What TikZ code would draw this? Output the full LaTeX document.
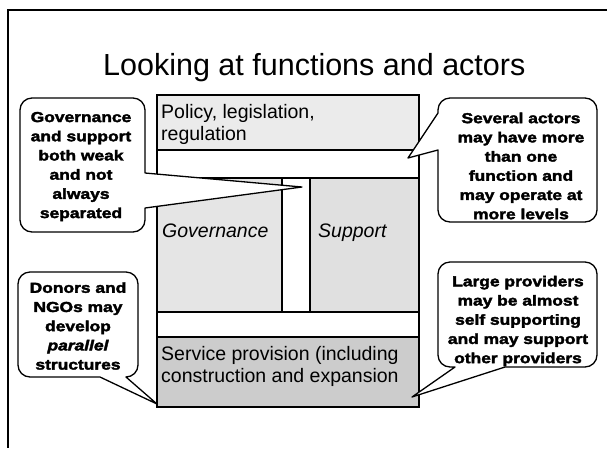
\documentclass[tikz,border=0pt]{standalone}
\usepackage{fontspec}
\setmainfont{Liberation Sans}
\newfontfamily\cfont[FakeStretch=1.2,FakeBold=2.5]{Liberation Sans Bold}
\newfontfamily\cifont[FakeStretch=1.2,FakeBold=2.5]{Liberation Sans Bold Italic}
\begin{document}
\begin{tikzpicture}[x=1pt,y=1pt,
  region/.style={draw=black,line width=1.3pt,anchor=north west,inner sep=0pt,outer sep=0pt},
  boxtext/.style={font=\fontsize{19.5}{22}\selectfont,align=left,inner sep=0pt,anchor=north west},
  labeltext/.style={font=\itshape\fontsize{19.5}{22}\selectfont,inner sep=0pt,anchor=base west},
  calloutshape/.style={draw=black,fill=white,line width=1.3pt,line join=round},
  callouttext/.style={font=\cfont\fontsize{14.5}{19.2}\selectfont,align=center,inner sep=0pt}]
\useasboundingbox (0,0) rectangle (607,-448);
% outer frame
\draw[line width=1.8pt] (607,-10) -- (8,-10) -- (8,-448);
% title
\node[font=\fontsize{30.5}{36}\selectfont,inner sep=0pt,anchor=base west] (title) at (103,-75) {Looking at functions and actors};
% main block
\node[region,fill=gray!16,minimum width=262,minimum height=55] (policy) at (157,-95) {};
\node[region,fill=white,minimum width=262,minimum height=28] (band1) at (157,-150) {};
\node[region,fill=gray!20,minimum width=125,minimum height=134] (gov) at (157,-178) {};
\node[region,fill=white,minimum width=28,minimum height=134] (gap) at (282,-178) {};
\node[region,fill=gray!24,minimum width=109,minimum height=134] (sup) at (310,-178) {};
\node[region,fill=white,minimum width=262,minimum height=25] (band2) at (157,-312) {};
\node[region,fill=gray!40,minimum width=262,minimum height=70] (serv) at (157,-337) {};
% callouts
\draw[calloutshape] (32,-98) -- (133,-98) arc[start angle=90,end angle=0,radius=12]
  -- (145,-173) -- (302,-187) -- (145,-208) -- (145,-220) arc[start angle=0,end angle=-90,radius=12]
  -- (32,-232) arc[start angle=-90,end angle=-180,radius=12]
  -- (20,-110) arc[start angle=180,end angle=90,radius=12] -- cycle;
\draw[calloutshape] (450,-98) -- (585,-98) arc[start angle=90,end angle=0,radius=12]
  -- (597,-210) arc[start angle=0,end angle=-90,radius=12]
  -- (450,-222) arc[start angle=-90,end angle=-180,radius=12]
  -- (438,-150) -- (408,-158) -- (438,-113) -- (438,-110) arc[start angle=180,end angle=90,radius=12] -- cycle;
\draw[calloutshape] (30,-272) -- (126,-272) arc[start angle=90,end angle=0,radius=12]
  -- (138,-365) arc[start angle=0,end angle=-90,radius=12]
  -- (157,-404) -- (100,-377) -- (30,-377) arc[start angle=-90,end angle=-180,radius=12]
  -- (18,-284) arc[start angle=180,end angle=90,radius=12] -- cycle;
\draw[calloutshape] (450,-262) -- (585,-262) arc[start angle=90,end angle=0,radius=12]
  -- (597,-355) arc[start angle=0,end angle=-90,radius=12]
  -- (505,-367) -- (412,-397) -- (455,-367) -- (450,-367) arc[start angle=-90,end angle=-180,radius=12]
  -- (438,-274) arc[start angle=180,end angle=90,radius=12] -- cycle;
% box texts
\node[boxtext] (policytext) at (161,-104) {Policy, legislation,\\regulation};
\node[labeltext] (govtext) at (162,-237) {Governance};
\node[labeltext] (suptext) at (318,-237) {Support};
\node[boxtext] (servtext) at (161,-346) {Service provision (including\\construction and expansion};
% callout texts
\node[callouttext] (c1) at (81,-166.5) {Governance\\and support\\both weak\\and not\\always\\separated};
\node[callouttext] (c2) at (521,-166) {Several actors\\may have more\\than one\\function and\\may operate at\\more levels};
\node[callouttext] (c3) at (78,-326) {Donors and\\NGOs may\\develop\\{\cifont parallel}\\structures};
\node[callouttext] (c4) at (518,-321) {Large providers\\may be almost\\self supporting\\and may support\\other providers};
\end{tikzpicture}
\end{document}
